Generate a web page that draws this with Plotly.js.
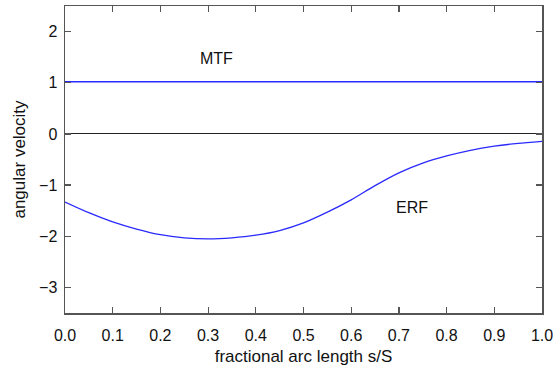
<!DOCTYPE html>
<html>
<head>
<meta charset="utf-8">
<script src="https://cdn.plot.ly/plotly-3.0.1.min.js"></script>
<style>html,body{margin:0;padding:0;background:#fff;}#chart{width:553px;height:372px;}</style>
</head>
<body>
<div id="chart"></div>
<script>
var sValues = [0, 0.05, 0.1, 0.15, 0.2, 0.25, 0.3, 0.35, 0.4, 0.45, 0.5, 0.55, 0.6, 0.65, 0.7, 0.75, 0.8, 0.85, 0.9, 0.95, 1.0];
var erfValues = [-1.33, -1.54, -1.72, -1.86, -1.97, -2.03, -2.05, -2.03, -1.98, -1.89, -1.74, -1.53, -1.29, -1.01, -0.76, -0.57, -0.43, -0.32, -0.24, -0.185, -0.145];
var mtfS = [0, 1];
var mtfValues = [1.02, 1.02];
var xTicks = [0, 0.1, 0.2, 0.3, 0.4, 0.5, 0.6, 0.7, 0.8, 0.9, 1.0];
var xTickLabels = ["0.0", "0.1", "0.2", "0.3", "0.4", "0.5", "0.6", "0.7", "0.8", "0.9", "1.0"];
var yTicks = [-3, -2, -1, 0, 1, 2];
var yTickLabels = ["\u22123", "\u22122", "\u22121", "0", "1", "2"];
var labelNames = ["MTF", "ERF"];
var labelX = [0.318, 0.727];
var labelY = [1.48, -1.44];

var font = {family: "Liberation Sans, Arial, sans-serif", size: 16, color: "#111"};
var titleFont = {family: "Liberation Sans, Arial, sans-serif", size: 17, color: "#111"};

var traces = [
  {x: mtfS, y: mtfValues, mode: "lines", line: {color: "#2a2aff", width: 1.3}, hoverinfo: "skip"},
  {x: sValues, y: erfValues, mode: "lines", line: {color: "#2a2aff", width: 1.3, shape: "spline", smoothing: 0.7}, hoverinfo: "skip"}
];

var axisCommon = {
  showgrid: false,
  showline: true,
  linecolor: "#555",
  linewidth: 1.5,
  mirror: "ticks",
  ticks: "inside",
  ticklen: 6,
  tickwidth: 1.2,
  tickcolor: "#555",
  tickfont: font,
  ticklabeloverflow: "allow",
  zeroline: false
};

var layout = {
  width: 553, height: 372,
  margin: {l: 65, r: 11, t: 6, b: 59},
  paper_bgcolor: "#fff", plot_bgcolor: "#fff",
  showlegend: false,
  font: font,
  xaxis: Object.assign({}, axisCommon, {
    range: [0, 1],
    tickvals: xTicks, ticktext: xTickLabels,
    ticklabelstandoff: 7,
    title: {text: "fractional arc length s/S", font: titleFont, standoff: 7}
  }),
  yaxis: Object.assign({}, axisCommon, {
    range: [-3.5, 2.5],
    tickvals: yTicks, ticktext: yTickLabels,
    ticklabelstandoff: 3,
    zeroline: true, zerolinecolor: "#222", zerolinewidth: 1,
    title: {text: "angular velocity", font: titleFont, standoff: 9}
  }),
  annotations: labelNames.map(function (t, i) {
    return {x: labelX[i], y: labelY[i], xref: "x", yref: "y", text: t, showarrow: false, font: font};
  })
};

Plotly.newPlot("chart", traces, layout, {staticPlot: true, displayModeBar: false});
</script>
</body>
</html>
